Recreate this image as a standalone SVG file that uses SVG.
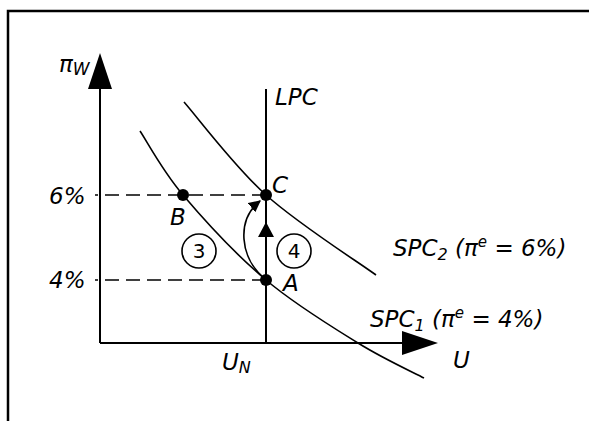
<svg xmlns="http://www.w3.org/2000/svg" width="589" height="421" viewBox="0 0 589 421">
<style>
.t{font-family:"DejaVu Sans","Verdana",sans-serif;font-style:italic;font-size:23px;fill:#000}
.n{font-family:"DejaVu Sans","Verdana",sans-serif;font-size:20px;fill:#000}
.ln{fill:none;stroke:#000;stroke-width:2}
.cv{fill:none;stroke:#000;stroke-width:1.6}
.ds{fill:none;stroke:#000;stroke-width:1.6;stroke-dasharray:14 7}
.dot{fill:#000}
.ring{fill:#fff;stroke:#000;stroke-width:1.6}
</style>
<defs>
<marker id="ah" viewBox="0 0 10 10" refX="9" refY="5" markerWidth="12" markerHeight="12" markerUnits="userSpaceOnUse" orient="auto">
<path d="M0,0 L10,5 L0,10 z" fill="#000"/>
</marker>
</defs>
<rect width="589" height="421" fill="#fff"/>
<g id="frame">
<path fill="none" stroke="#000" stroke-width="2.5" d="M8,421 L8,11 L589,11"/>
</g>
<g id="connectors">
<path class="ds" d="M266,195 L95,195"/>
<path class="ds" d="M266,280 L95,280"/>
<path class="ln" d="M100,343 L100,89"/>
<polygon points="100,53 88,89 112,89" fill="#000"/>
<path class="ln" d="M100,343 L402,343"/>
<polygon points="438,343 402,331 402,355" fill="#000"/>
<path class="ln" d="M266,89 L266,343"/>
<polygon points="266,222 258,237 274,237" fill="#000"/>
<path class="cv" d="M264,278 C240,258 236,220 260,201" marker-end="url(#ah)"/>
</g>
<g id="spc1">
<path class="cv" d="M140,131 C147.2,141.7 162,170.2 183,195 C204,219.8 236.8,255.3 266,280 C295.2,304.7 331.7,326.7 358,343 C384.3,359.3 413,372.2 424,378"/>
<text class="t" x="370" y="327">SPC<tspan font-size="16" dy="4">1</tspan><tspan dy="-4"> (π</tspan><tspan font-size="15" dy="-9">e</tspan><tspan dy="9"> = 4%)</tspan></text>
</g>
<g id="spc2">
<path class="cv" d="M184,102 C197.7,117.5 234,166.2 266,195 C298,223.8 357.7,261.7 376,275"/>
<text class="t" x="393" y="256">SPC<tspan font-size="16" dy="4">2</tspan><tspan dy="-4"> (π</tspan><tspan font-size="15" dy="-9">e</tspan><tspan dy="9"> = 6%)</tspan></text>
</g>
<g id="lpc">
<text class="t" x="275" y="105">LPC</text>
</g>
<g id="axis-labels">
<text class="t" x="59" y="72" font-size="27">π<tspan font-size="17" dy="3">W</tspan></text>
<text class="t" x="49" y="204">6%</text>
<text class="t" x="49" y="288">4%</text>
<text class="t" x="222" y="370">U<tspan font-size="16" dy="3">N</tspan></text>
<text class="t" x="453" y="368">U</text>
</g>
<g id="pointA">
<circle class="dot" cx="266" cy="280" r="6"/>
<text class="t" x="283" y="291">A</text>
</g>
<g id="pointB">
<circle class="dot" cx="183" cy="195" r="6"/>
<text class="t" x="170" y="225">B</text>
</g>
<g id="pointC">
<circle class="dot" cx="266" cy="195" r="6"/>
<text class="t" x="272" y="193">C</text>
</g>
<g id="step3">
<circle class="ring" cx="199" cy="251" r="17"/>
<text class="n" x="199" y="258" text-anchor="middle">3</text>
</g>
<g id="step4">
<circle class="ring" cx="294" cy="251" r="17"/>
<text class="n" x="294" y="258" text-anchor="middle">4</text>
</g>
</svg>
